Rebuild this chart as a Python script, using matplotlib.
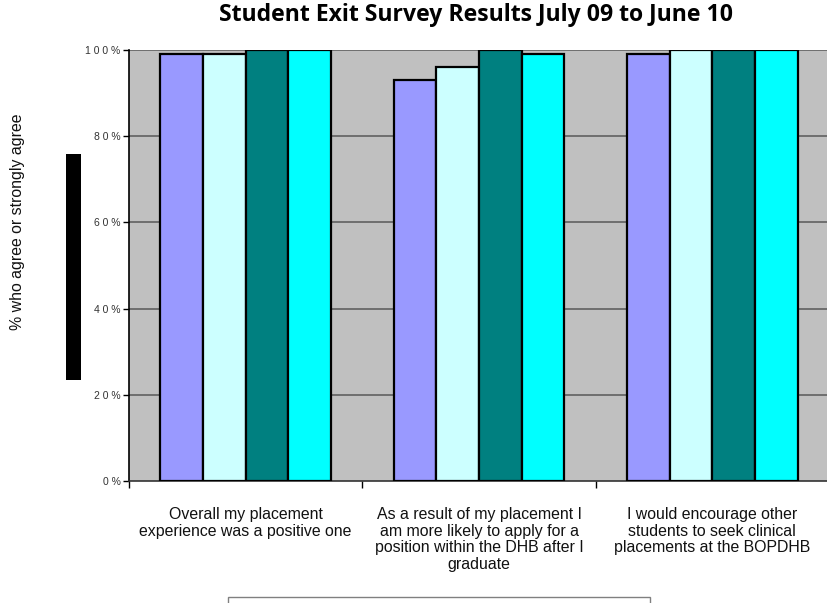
import matplotlib
matplotlib.use("Agg")
import matplotlib.pyplot as plt
import numpy as np
from matplotlib.patches import Rectangle

plt.rcParams['font.family'] = ['Liberation Sans', 'DejaVu Sans']

categories = [
    "Overall my placement\nexperience was a positive one",
    "As a result of my placement I\nam more likely to apply for a\nposition within the DHB after I\ngraduate",
    "I would encourage other\nstudents to seek clinical\nplacements at the BOPDHB",
]
series_names = ["Series 1", "Series 2", "Series 3", "Series 4"]
values = [
    [99, 93, 99],
    [99, 96, 100],
    [100, 100, 100],
    [100, 99, 100],
]
colors = ["#9999FF", "#CCFFFF", "#008080", "#00FFFF"]
yticks = [0, 20, 40, 60, 80, 100]
yticklabels = ["0 %", "2 0 %", "4 0 %", "6 0 %", "8 0 %", "1 0 0 %"]

W, H = 827, 603
fig = plt.figure(figsize=(W / 100, H / 100), dpi=100)
left, right, top, bottom = 129, 829, 50, 481
ax = fig.add_axes([left / W, 1 - bottom / H, (right - left) / W, (bottom - top) / H])
ax.set_facecolor("#C0C0C0")

n = len(categories)
x = np.arange(n)
bw = 0.183
for i, (vals, c) in enumerate(zip(values, colors)):
    ax.bar(x + (i - 1.5) * bw, vals, width=bw, color=c, edgecolor="black",
           linewidth=1.6, zorder=3, label=series_names[i])

ax.set_xlim(-0.5, n - 0.5)
ax.set_ylim(0, 100)
ax.set_yticks(yticks)
ax.set_yticklabels(yticklabels, fontsize=7.5, color="#333333")
for yv in yticks[1:]:
    ax.axhline(yv, color="#606060", linewidth=1.2, zorder=1)

ax.set_xticks(np.arange(n + 1) - 0.5)
ax.set_xticklabels([])
ax.set_xticks(x, minor=True)
ax.set_xticklabels(categories, minor=True, fontsize=11.4, color="#111111",
                   linespacing=1.12)
ax.tick_params(axis="x", which="minor", length=0, pad=19)
ax.tick_params(axis="x", which="major", length=5, width=1, color="black")
ax.tick_params(axis="y", length=4, width=1, color="black", pad=2)

for s in ["top", "right"]:
    ax.spines[s].set_visible(False)
ax.spines["left"].set_linewidth(1.2)
ax.spines["bottom"].set_linewidth(1.2)
ax.spines["bottom"].set_color("#333333")

fig.text(476 / W, 1 - 15 / H, "Student Exit Survey Results July 09 to June 10",
         ha="center", va="center", fontsize=16.6, fontweight="bold",
         family=["Open Sans", "DejaVu Sans"])
fig.text(18 / W, 1 - 222 / H, "% who agree or strongly agree", rotation=90,
         ha="center", va="center", fontsize=11.4, color="#111111")

fig.patches.append(Rectangle((66 / W, 1 - 380 / H), 15 / W, 226 / H,
                             transform=fig.transFigure, facecolor="black",
                             edgecolor="none"))
fig.patches.append(Rectangle((228 / W, 1 - 640 / H), 422 / W, 43 / H,
                             transform=fig.transFigure, facecolor="white",
                             edgecolor="#808080", linewidth=1))

fig.savefig("out.png", dpi=100)
